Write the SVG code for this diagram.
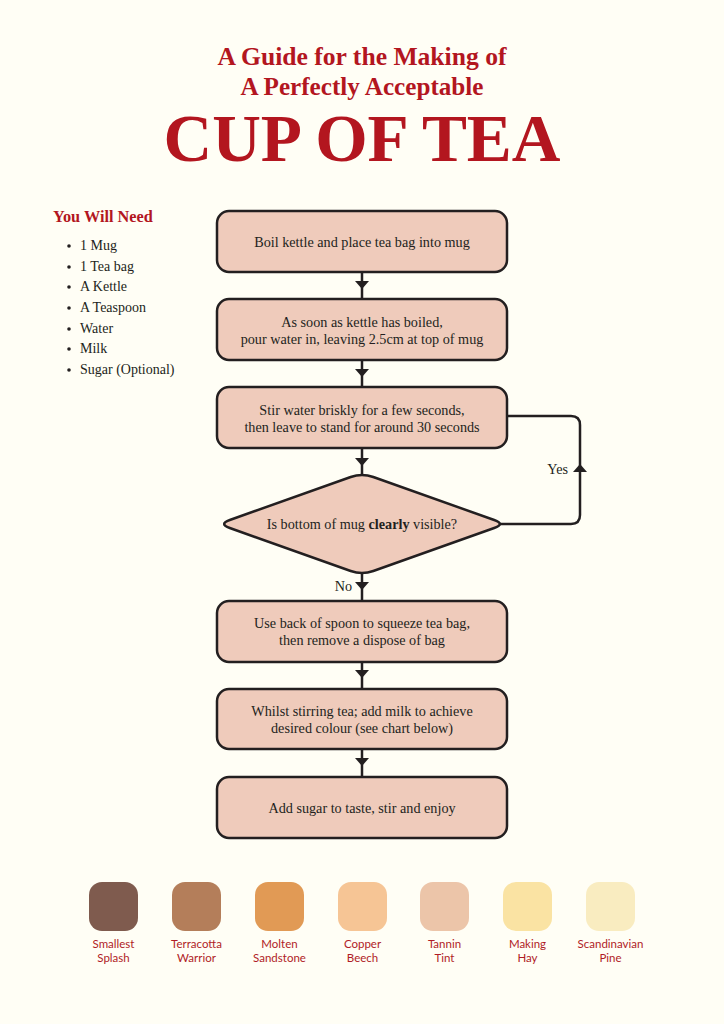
<svg xmlns="http://www.w3.org/2000/svg" width="724" height="1024" viewBox="0 0 724 1024">
<defs>
<style>
.bg{fill:#FFFEF5}
.title{font-family:"Liberation Serif",serif;font-weight:bold;fill:#B3161F;text-anchor:middle}
.box{fill:#EFCBBB;stroke:#231F20;stroke-width:2.5}
.t{font-family:"Liberation Serif",serif;font-size:14.2px;fill:#231F20;text-anchor:middle}
.li{font-family:"Liberation Serif",serif;font-size:14px;fill:#231F20}
.conn{fill:none;stroke:#231F20;stroke-width:2.5}
.ah{fill:#231F20}
.sw{font-family:Lato,"Liberation Sans",sans-serif;font-size:11.5px;fill:#B01C26;text-anchor:middle}
</style>
</defs>
<rect class="bg" x="0" y="0" width="724" height="1024"/>
<g id="title">
<text class="title" x="362" y="65" font-size="25" textLength="289" lengthAdjust="spacingAndGlyphs">A Guide for the Making of</text>
<text class="title" x="362" y="94.5" font-size="25" textLength="243" lengthAdjust="spacingAndGlyphs">A Perfectly Acceptable</text>
<text class="title" x="362" y="161" font-size="68" textLength="397" lengthAdjust="spacingAndGlyphs">CUP OF TEA</text>
</g>
<g id="you-will-need">
<text x="53" y="222" font-family="Liberation Serif,serif" font-weight="bold" font-size="16.3" fill="#B3161F">You Will Need</text>
<circle cx="69" cy="246" r="1.8" class="ah"/><text class="li" x="80" y="250">1 Mug</text>
<circle cx="69" cy="267" r="1.8" class="ah"/><text class="li" x="80" y="271">1 Tea bag</text>
<circle cx="69" cy="287" r="1.8" class="ah"/><text class="li" x="80" y="291">A Kettle</text>
<circle cx="69" cy="308" r="1.8" class="ah"/><text class="li" x="80" y="312">A Teaspoon</text>
<circle cx="69" cy="329" r="1.8" class="ah"/><text class="li" x="80" y="333">Water</text>
<circle cx="69" cy="349" r="1.8" class="ah"/><text class="li" x="80" y="353">Milk</text>
<circle cx="69" cy="370" r="1.8" class="ah"/><text class="li" x="80" y="374">Sugar (Optional)</text>
</g>
<g id="connectors">
<line class="conn" x1="362" y1="272" x2="362" y2="299"/>
<polygon class="ah" points="355,281 369,281 362,289"/>
<line class="conn" x1="362" y1="360" x2="362" y2="387"/>
<polygon class="ah" points="355,369 369,369 362,377"/>
<line class="conn" x1="362" y1="448" x2="362" y2="475"/>
<polygon class="ah" points="355,458 369,458 362,466"/>
<line class="conn" x1="362" y1="573" x2="362" y2="601"/>
<polygon class="ah" points="355,582 369,582 362,590"/>
<line class="conn" x1="362" y1="662" x2="362" y2="689"/>
<polygon class="ah" points="355,670 369,670 362,678"/>
<line class="conn" x1="362" y1="749" x2="362" y2="777"/>
<polygon class="ah" points="355,758 369,758 362,766"/>
<path class="conn" d="M500,524 H571 Q580,524 580,515 V425 Q580,416 571,416 H507"/>
<polygon class="ah" points="573,472 587,472 580,464"/>
<text class="t" x="568" y="474" style="text-anchor:end">Yes</text>
<text class="t" x="352" y="591" style="text-anchor:end">No</text>
</g>
<g id="step1">
<rect class="box" x="217" y="211" width="290" height="61" rx="12"/>
<text class="t" x="362" y="247">Boil kettle and place tea bag into mug</text>
</g>
<g id="step2">
<rect class="box" x="217" y="299" width="290" height="61" rx="12"/>
<text class="t" x="362" y="327">As soon as kettle has boiled,</text>
<text class="t" x="362" y="344">pour water in, leaving 2.5cm at top of mug</text>
</g>
<g id="step3">
<rect class="box" x="217" y="387" width="290" height="61" rx="12"/>
<text class="t" x="362" y="415">Stir water briskly for a few seconds,</text>
<text class="t" x="362" y="432">then leave to stand for around 30 seconds</text>
</g>
<g id="decision">
<path class="box" d="M350.7,477 Q362,473 373.3,477 L494.2,520 Q505.5,524 494.2,528 L373.3,571 Q362,575 350.7,571 L229.8,528 Q218.5,524 229.8,520 Z"/>
<text class="t" x="362" y="529">Is bottom of mug <tspan font-weight="bold">clearly</tspan> visible?</text>
</g>
<g id="step4">
<rect class="box" x="217" y="601" width="290" height="61" rx="12"/>
<text class="t" x="362" y="628">Use back of spoon to squeeze tea bag,</text>
<text class="t" x="362" y="645">then remove a dispose of bag</text>
</g>
<g id="step5">
<rect class="box" x="217" y="689" width="290" height="60" rx="12"/>
<text class="t" x="362" y="716">Whilst stirring tea; add milk to achieve</text>
<text class="t" x="362" y="733">desired colour (see chart below)</text>
</g>
<g id="step6">
<rect class="box" x="217" y="777" width="290" height="61" rx="12"/>
<text class="t" x="362" y="813">Add sugar to taste, stir and enjoy</text>
</g>
<g id="chart">
<g id="sw1"><rect x="89" y="882" width="49" height="49" rx="13" fill="#7F5B4E"/><text class="sw" x="113.5" y="948">Smallest</text><text class="sw" x="113.5" y="962">Splash</text></g>
<g id="sw2"><rect x="172" y="882" width="49" height="49" rx="13" fill="#B47E5A"/><text class="sw" x="196.5" y="948">Terracotta</text><text class="sw" x="196.5" y="962">Warrior</text></g>
<g id="sw3"><rect x="255" y="882" width="49" height="49" rx="13" fill="#E19A55"/><text class="sw" x="279.5" y="948">Molten</text><text class="sw" x="279.5" y="962">Sandstone</text></g>
<g id="sw4"><rect x="338" y="882" width="49" height="49" rx="13" fill="#F6C595"/><text class="sw" x="362.5" y="948">Copper</text><text class="sw" x="362.5" y="962">Beech</text></g>
<g id="sw5"><rect x="420" y="882" width="49" height="49" rx="13" fill="#ECC5A9"/><text class="sw" x="444.5" y="948">Tannin</text><text class="sw" x="444.5" y="962">Tint</text></g>
<g id="sw6"><rect x="503" y="882" width="49" height="49" rx="13" fill="#FAE3A3"/><text class="sw" x="527.5" y="948">Making</text><text class="sw" x="527.5" y="962">Hay</text></g>
<g id="sw7"><rect x="586" y="882" width="49" height="49" rx="13" fill="#F9ECC0"/><text class="sw" x="610.5" y="948">Scandinavian</text><text class="sw" x="610.5" y="962">Pine</text></g>
</g>
</svg>
